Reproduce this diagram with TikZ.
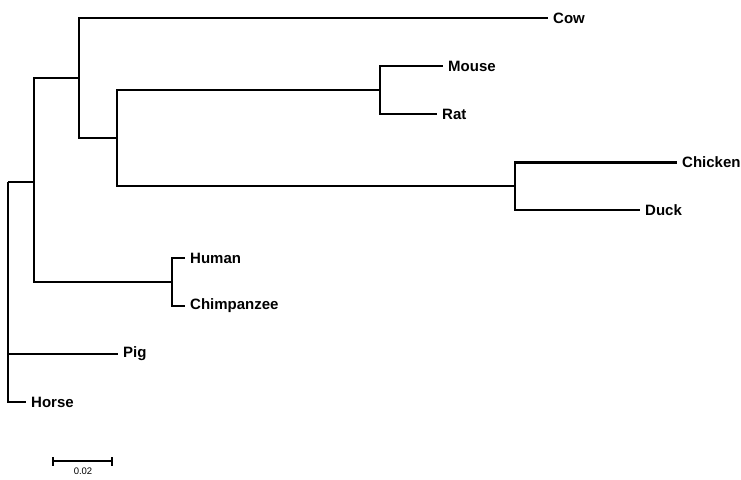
\documentclass[tikz,border=0pt]{standalone}
\usepackage{fontspec}
\setmainfont{Liberation Sans}
\tikzset{
  branch/.style={line width=1.3pt},
  leaf/.style={anchor=west, inner xsep=5pt, inner ysep=0pt, font=\fontsize{15}{17}\selectfont\bfseries}
}
\begin{document}
\begin{tikzpicture}[x=1pt, y=-1pt]
\useasboundingbox (0,0) rectangle (741,479);

% Internal nodes
\coordinate (root) at (8,182);
\coordinate (nodeC) at (34,182);
\coordinate (nodeA) at (79,78);
\coordinate (nodeB) at (117,138);
\coordinate (nodeMR) at (380,90);
\coordinate (nodeCD) at (515,186);
\coordinate (nodeHC) at (172,282);

% Leaves
\node[leaf] (cow) at (548,18) {Cow};
\node[leaf] (mouse) at (443,66) {Mouse};
\node[leaf] (rat) at (437,114) {Rat};
\node[leaf] (chicken) at (677,162) {Chicken};
\node[leaf] (duck) at (640,210) {Duck};
\node[leaf] (human) at (185,258) {Human};
\node[leaf] (chimp) at (185,306) {Chimpanzee};
\node[leaf] (pig) at (118,354) {Pig};
\node[leaf] (horse) at (26,402) {Horse};

% Branches
\draw[branch] (root) -- (nodeC);
\draw[branch] (root) |- (pig.west);
\draw[branch] (root) |- (horse.west);
\draw[branch] (nodeC) |- (nodeA);
\draw[branch] (nodeC) |- (nodeHC);
\draw[branch] (nodeA) |- (cow.west);
\draw[branch] (nodeA) |- (nodeB);
\draw[branch] (nodeB) |- (nodeMR);
\draw[branch] (nodeB) |- (nodeCD);
\draw[branch] (nodeMR) |- (mouse.west);
\draw[branch] (nodeMR) |- (rat.west);
\draw[branch] (nodeCD) |- (duck.west);
\draw[branch] (nodeCD) -- ++(0,-24) coordinate (chk);
\draw[line width=3pt] ([xshift=-0.65pt]chk) -- (chicken.west);
\draw[branch] (nodeHC) |- (human.west);
\draw[branch] (nodeHC) |- (chimp.west);

% Scale bar
\coordinate (sbl) at (53,461);
\coordinate (sbr) at (112,461);
\draw[branch] (sbl) -- (sbr);
\draw[branch] ([yshift=-4.5pt]sbl) -- ([yshift=4.5pt]sbl);
\draw[branch] ([yshift=-4.5pt]sbr) -- ([yshift=4.5pt]sbr);
\node[font=\fontsize{9.5}{10}\selectfont, inner sep=0pt] (sblabel) at (83,471) {0.02};

\end{tikzpicture}
\end{document}
